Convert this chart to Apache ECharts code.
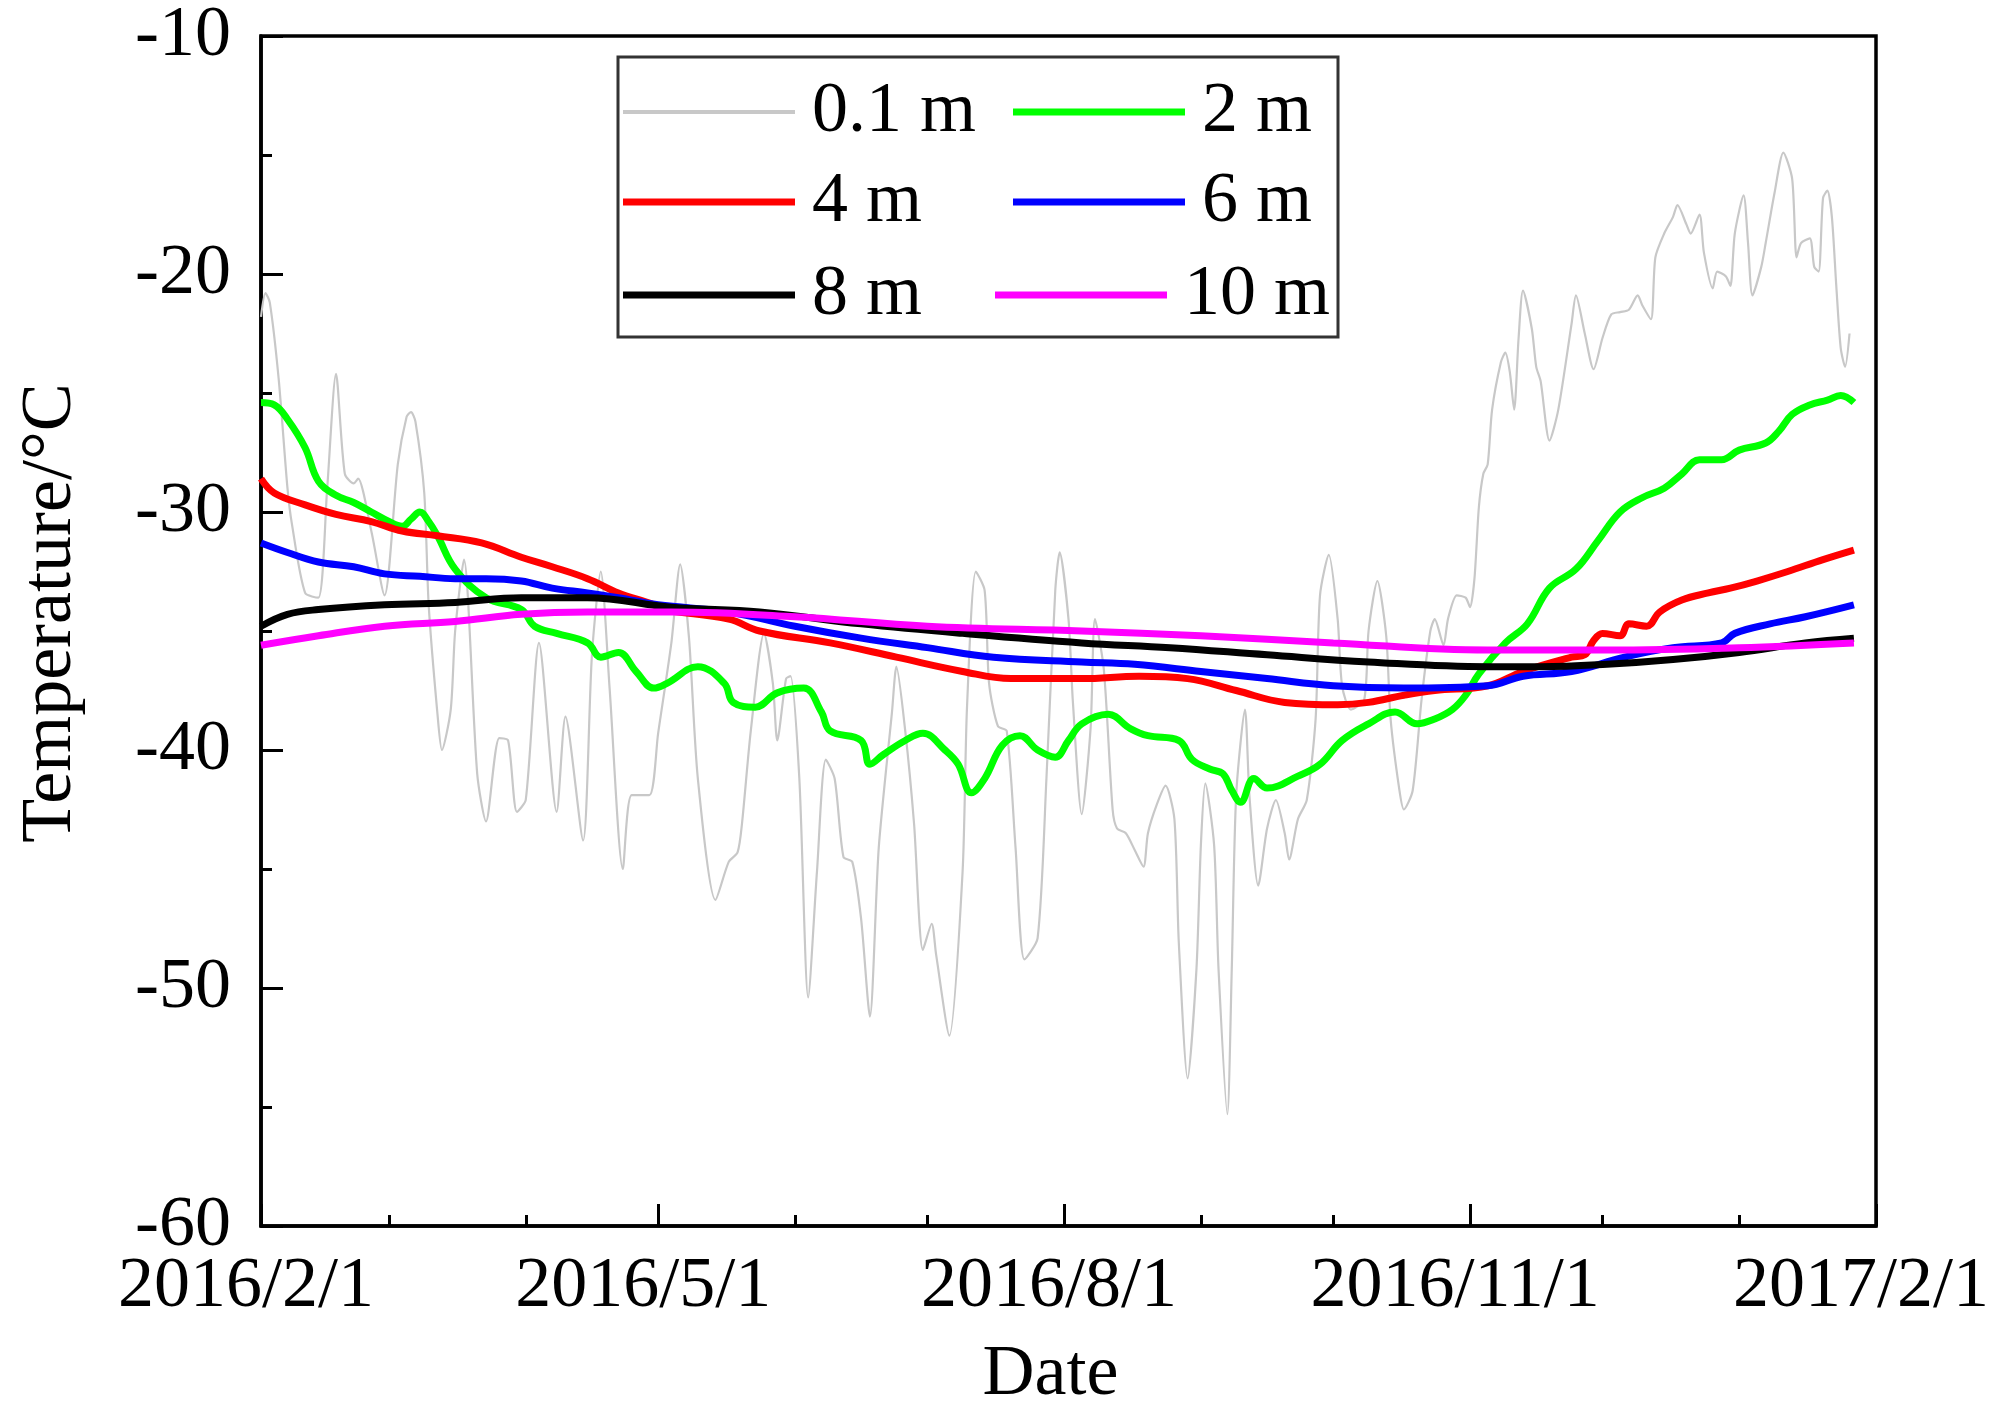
<!DOCTYPE html>
<html>
<head>
<meta charset="utf-8">
<script src="https://cdn.jsdelivr.net/npm/echarts@6/dist/echarts.min.js"></script>
<style>
html,body{margin:0;padding:0;background:#fff;}
#chart{width:1997px;height:1416px;}
</style>
</head>
<body>
<div id="chart"></div>
<script>
// ---------------- data ----------------
const START_DATE = '2016-02-01';
const END_DATE = '2017-02-01';
const majorTickDates = ['2016-02-01', '2016-05-01', '2016-08-01', '2016-11-01', '2017-02-01'];
const majorTickLabels = ['2016/2/1', '2016/5/1', '2016/8/1', '2016/11/1', '2017/2/1'];
const minorTickDates = ['2016-03-01', '2016-04-01', '2016-06-01', '2016-07-01', '2016-09-01', '2016-10-01', '2016-12-01', '2017-01-01'];
const yTicks = [-60, -50, -40, -30, -20, -10];
const seriesNames = ['0.1 m', '2 m', '4 m', '6 m', '8 m', '10 m'];

// [days since START_DATE, temperature in °C]
const depth01 = [[0,-21.8],[1,-20.8],[2,-21.2],[4,-24.4],[6,-29],[7,-30.5],[10,-33.4],[13,-33.6],[15,-29],[17,-24.2],[19,-28.4],[21,-28.8],[22,-28.6],[25,-30.8],[28,-33.5],[31,-28],[33,-26],[34,-25.8],[35,-26.2],[37,-29.2],[38,-33.9],[40,-38.5],[41,-40],[43,-38.3],[44,-35],[46,-32],[49,-41],[51,-43],[54,-39.5],[56,-39.6],[58,-42.6],[60,-42.1],[63,-35.5],[67,-42.6],[69,-38.6],[73,-43.8],[75,-36],[77,-32.5],[79,-37.4],[82,-45],[84,-41.9],[88,-41.9],[90,-39.3],[93,-35.5],[95,-32.2],[97,-35.3],[99,-41.2],[103,-46.3],[106,-44.7],[108,-44.3],[109,-43.1],[111,-39.2],[114,-35.1],[116,-37.2],[117,-39.6],[119,-37],[120,-36.9],[122,-41.2],[124,-50.4],[126,-45.1],[128,-40.4],[130,-41.2],[132,-44.5],[134,-44.7],[136,-47.1],[138,-51.2],[140,-44.1],[143,-38.4],[144,-36.5],[146,-39.2],[148,-43.1],[150,-48.4],[152,-47.3],[153,-48.6],[156,-52],[159,-45.1],[160,-38.2],[162,-32.5],[164,-33.3],[165,-37.2],[167,-39],[169,-39.2],[171,-44.1],[173,-48.8],[176,-47.9],[178,-41.2],[180,-33.3],[181,-31.7],[183,-34.5],[184,-38],[186,-42.7],[188,-39.1],[189,-34.5],[191,-36.6],[193,-42.5],[194,-43.3],[196,-43.5],[198,-44.2],[200,-44.9],[201,-43.5],[203,-42.3],[205,-41.5],[207,-42.9],[208,-48.1],[210,-53.8],[212,-49.2],[213,-44],[214,-41.4],[216,-44],[217,-49.2],[219,-55.3],[220,-49.2],[221,-41.9],[223,-38.3],[224,-41.9],[226,-45.7],[228,-43.3],[230,-42.1],[232,-43.5],[233,-44.6],[235,-42.9],[237,-42.1],[239,-38.7],[240,-33.5],[242,-31.8],[244,-34.5],[245,-37.3],[247,-38.3],[250,-37.9],[251,-35],[253,-32.9],[255,-35.2],[256,-38.7],[258,-41.7],[259,-42.5],[261,-41.7],[263,-37.9],[265,-35],[266,-34.5],[268,-35.6],[269,-34.5],[271,-33.5],[273,-33.6],[274,-34],[275,-32.8],[276,-29.8],[277,-28.4],[278,-28],[279,-25.7],[281,-23.7],[282,-23.3],[283,-24.1],[284,-25.7],[285,-22.7],[286,-20.7],[288,-22.3],[289,-23.9],[290,-24.5],[292,-27],[294,-25.7],[297,-22.1],[298,-20.9],[300,-22.5],[302,-24],[304,-22.7],[306,-21.7],[308,-21.6],[310,-21.5],[312,-20.9],[313,-21.3],[315,-21.9],[316,-19.3],[318,-18.3],[320,-17.6],[321,-17.1],[323,-17.9],[324,-18.3],[326,-17.5],[327,-19.1],[329,-20.6],[330,-19.9],[332,-20.1],[333,-20.5],[334,-18.3],[336,-16.7],[337,-18.7],[338,-20.9],[340,-19.7],[341,-18.7],[343,-16.6],[345,-14.9],[347,-16],[348,-19.3],[349,-18.7],[351,-18.5],[352,-19.7],[353,-19.9],[354,-16.8],[355,-16.5],[356,-17.6],[357,-20.5],[358,-23.1],[359,-23.9],[360,-22.5]];

const depth2 = [[0,-25.4],[3,-25.5],[6,-26.1],[10,-27.3],[13,-28.7],[17,-29.3],[21,-29.6],[25,-30],[29,-30.4],[32,-30.6],[34,-30.3],[36,-30],[38,-30.4],[40,-31],[44,-32.4],[51,-33.6],[59,-34.1],[62,-34.8],[67,-35.1],[74,-35.5],[77,-36.1],[81,-35.9],[85,-36.7],[89,-37.4],[92,-37.2],[99,-36.5],[105,-37.2],[107,-38],[112,-38.2],[117,-37.6],[123,-37.4],[127,-38.4],[129,-39.2],[136,-39.6],[138,-40.6],[141,-40.2],[146,-39.6],[150,-39.3],[155,-40],[158,-40.6],[161,-41.8],[164,-41.2],[168,-39.8],[172,-39.4],[176,-40],[180,-40.3],[183,-39.6],[186,-38.9],[192,-38.5],[197,-39.1],[201,-39.4],[208,-39.6],[211,-40.4],[215,-40.8],[218,-41],[220,-41.7],[222,-42.2],[225,-41.2],[228,-41.6],[235,-41.1],[240,-40.6],[245,-39.6],[251,-38.9],[257,-38.4],[262,-38.9],[266,-38.7],[270,-38.3],[273,-37.7],[276,-36.8],[282,-35.5],[287,-34.7],[292,-33.2],[298,-32.4],[303,-31.2],[308,-30],[313,-29.4],[318,-29],[322,-28.4],[326,-27.8],[331,-27.8],[335,-27.4],[341,-27.1],[344,-26.6],[347,-25.9],[351,-25.5],[355,-25.3],[358,-25.1],[361,-25.4]];

const depth4 = [[0,-28.6],[3,-29.2],[10,-29.7],[17,-30.1],[25,-30.4],[32,-30.8],[40,-31],[50,-31.3],[59,-31.9],[66,-32.3],[74,-32.8],[81,-33.4],[89,-33.9],[91,-34.1],[106,-34.5],[113,-35],[129,-35.5],[144,-36.1],[159,-36.7],[170,-37],[186,-37],[199,-36.9],[210,-37],[221,-37.5],[232,-38],[244,-38.1],[251,-38],[259,-37.7],[266,-37.5],[278,-37.3],[286,-36.7],[297,-36.1],[300,-36],[302,-35.4],[304,-35.1],[308,-35.2],[310,-34.7],[314,-34.8],[317,-34.2],[322,-33.7],[328,-33.4],[333,-33.2],[339,-32.9],[346,-32.5],[354,-32],[361,-31.6]];

const depth6 = [[0,-31.3],[6,-31.7],[13,-32.1],[21,-32.3],[28,-32.6],[36,-32.7],[44,-32.8],[51,-32.8],[59,-32.9],[66,-33.2],[74,-33.4],[81,-33.6],[90,-33.9],[106,-34.2],[121,-34.8],[136,-35.3],[151,-35.7],[166,-36.1],[186,-36.3],[198,-36.4],[213,-36.7],[228,-37],[243,-37.3],[259,-37.4],[278,-37.3],[286,-36.9],[297,-36.7],[309,-36.1],[320,-35.7],[331,-35.5],[334,-35.1],[342,-34.7],[350,-34.4],[361,-33.9]];

const depth8 = [[0,-34.8],[6,-34.3],[13,-34.1],[28,-33.9],[44,-33.8],[59,-33.6],[74,-33.6],[93,-34],[113,-34.2],[136,-34.7],[159,-35.1],[186,-35.5],[206,-35.7],[228,-36],[251,-36.3],[278,-36.5],[290,-36.5],[305,-36.4],[320,-36.2],[335,-35.9],[350,-35.5],[361,-35.3]];

const depth10 = [[0,-35.6],[13,-35.2],[28,-34.8],[44,-34.6],[59,-34.3],[74,-34.2],[93,-34.2],[121,-34.4],[151,-34.8],[186,-35],[213,-35.2],[243,-35.5],[278,-35.8],[305,-35.8],[335,-35.7],[361,-35.5]];

// ---------------- helpers ----------------
function dayOf(s) {
  const p = s.split('-').map(Number), q = START_DATE.split('-').map(Number);
  return Math.round((Date.UTC(p[0], p[1] - 1, p[2]) - Date.UTC(q[0], q[1] - 1, q[2])) / 86400000);
}
const majorDays = majorTickDates.map(dayOf);
const minorDays = minorTickDates.map(dayOf);
const endDay = dayOf(END_DATE);

const FONT = 'Liberation Serif';
const colors = ['#c8c8c8', '#00ff00', '#ff0000', '#0000ff', '#000000', '#ff00ff'];
const widths = [2.2, 7, 7, 7, 7, 7];
const legendIconHeights = [4, 7, 7, 7, 7, 7];
const allData = [depth01, depth2, depth4, depth6, depth8, depth10];

const legendPos = [
  {left: 623, top: 76},
  {left: 1013, top: 76},
  {left: 623, top: 166},
  {left: 1013, top: 166},
  {left: 623, top: 259},
  {left: 995, top: 259}
];

const chart = echarts.init(document.getElementById('chart'), null, {renderer: 'canvas'});
const option = {
  backgroundColor: '#ffffff',
  animation: false,
  grid: {left: 261, right: 121, top: 35, bottom: 189, show: true, borderColor: '#000', borderWidth: 3.5, backgroundColor: 'transparent'},
  legend: legendPos.map((p, i) => ({
    data: [seriesNames[i]], left: p.left, top: p.top, orient: 'horizontal', padding: 0,
    itemWidth: 172, itemHeight: legendIconHeights[i], selectedMode: false,
    icon: 'rect',
    textStyle: {fontFamily: FONT, fontSize: 72, color: '#000', lineHeight: 72, padding: [0, 0, 0, 12]}
  })),
  graphic: [{
    type: 'rect', z: 1,
    shape: {x: 618, y: 57, width: 720, height: 280},
    style: {fill: 'rgba(255,255,255,0)', stroke: '#333', lineWidth: 3}
  }],
  xAxis: [{
    type: 'value', min: 0, max: endDay,
    name: 'Date', nameLocation: 'middle', nameGap: 113,
    nameTextStyle: {fontFamily: FONT, fontSize: 72, color: '#000', padding: [0, 36, 0, 0]},
    axisLine: {show: true, lineStyle: {color: '#000', width: 3.5}},
    axisTick: {show: true, inside: true, length: 22, customValues: majorDays, lineStyle: {color: '#000', width: 3}},
    axisLabel: {
      show: true, customValues: majorDays, margin: 25,
      fontFamily: FONT, fontSize: 72, color: '#000', padding: [0, 30, 0, 0],
      formatter: v => majorTickLabels[majorDays.indexOf(v)]
    },
    splitLine: {show: false}
  }, {
    type: 'value', min: 0, max: endDay, position: 'bottom', gridIndex: 0,
    axisLine: {show: false},
    axisTick: {show: true, inside: true, length: 11, customValues: minorDays, lineStyle: {color: '#000', width: 3}},
    axisLabel: {show: false},
    splitLine: {show: false}
  }],
  yAxis: {
    type: 'value', min: yTicks[0], max: yTicks[yTicks.length - 1], interval: 10,
    name: 'Temperature/°C', nameLocation: 'middle', nameGap: 174,
    nameTextStyle: {fontFamily: FONT, fontSize: 72, color: '#000', padding: [0, 0, 0, 36]},
    axisLine: {show: true, lineStyle: {color: '#000', width: 3.5}},
    axisTick: {show: true, inside: true, length: 22, lineStyle: {color: '#000', width: 3}},
    minorTick: {show: true, splitNumber: 2, length: 11, lineStyle: {color: '#000', width: 3}},
    axisLabel: {margin: 30, fontFamily: FONT, fontSize: 72, color: '#000'},
    splitLine: {show: false}
  },
  series: seriesNames.map((n, i) => ({
    name: n, type: 'line', data: allData[i], xAxisIndex: 0,
    showSymbol: false, symbol: 'none', smooth: i === 0 ? 0.25 : 0.4,
    color: colors[i],
    lineStyle: {color: colors[i], width: widths[i]},
    z: 2 + i
  }))
};
chart.setOption(option);
</script>
</body>
</html>
